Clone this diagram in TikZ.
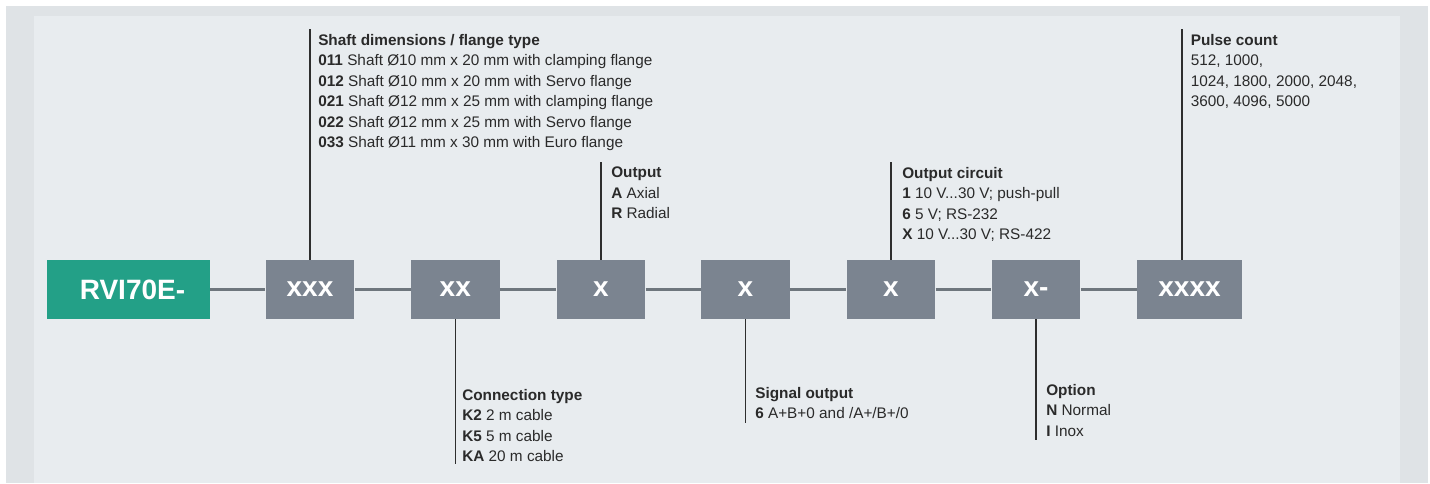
\documentclass[tikz,border=0pt]{standalone}
\usepackage{fontspec}
\setmainfont{Liberation Sans}
\usetikzlibrary{calc}
\definecolor{outerbg}{HTML}{DFE3E6}
\definecolor{innerbg}{HTML}{E8ECEF}
\definecolor{codegreen}{HTML}{23A087}
\definecolor{codegrey}{HTML}{7B8490}
\definecolor{linkgrey}{HTML}{6E767D}
\definecolor{leadercol}{HTML}{2E2E2E}
\definecolor{txtcol}{HTML}{2A2A2A}
\begin{document}
\begin{tikzpicture}[x=0.75pt,y=-0.75pt,
  codebox/.style={fill=codegrey, text=white, inner sep=0pt,
    font=\fontsize{21pt}{26pt}\selectfont\bfseries,
    minimum width=66.4pt, minimum height=44.25pt},
  headbox/.style={codebox, fill=codegreen, minimum width=122.25pt},
  widebox/.style={codebox, minimum width=78.4pt},
  link/.style={draw=linkgrey, line width=2pt},
  leader/.style={draw=leadercol, line width=1pt},
  info/.style={anchor=north west, inner sep=0pt, align=left, text=txtcol,
    font=\fontsize{11.5pt}{15.375pt}\selectfont}]
\useasboundingbox (0,0) rectangle (1430,483);
\fill[white] (0,0) rectangle (1430,483);
\fill[outerbg] (6,6) rectangle (1428,483);
\fill[innerbg] (34,16) rectangle (1400,483);

% code boxes
\node[headbox] (b0) at (128.5,289.5) {\hspace*{6pt}RVI70E-};
\node[codebox] (b1) at (310,289.5) {xxx};
\node[codebox] (b2) at (455.3,289.5) {xx};
\node[codebox] (b3) at (601,289.5) {x};
\node[codebox] (b4) at (745.4,289.5) {x};
\node[codebox] (b5) at (891,289.5) {x};
\node[codebox] (b6) at (1036,289.5) {x-};
\node[widebox] (b7) at (1189.5,289.5) {xxxx};

% horizontal links
\draw[link] (b0.east) -- (b1.west);
\draw[link] (b1.east) -- (b2.west);
\draw[link] (b2.east) -- (b3.west);
\draw[link] (b3.east) -- (b4.west);
\draw[link] (b4.east) -- (b5.west);
\draw[link] (b5.east) -- (b6.west);
\draw[link] (b6.east) -- (b7.west);

% leader ends
\coordinate (t1) at (310,29);
\coordinate (t3) at (601,162);
\coordinate (t5) at (891,162);
\coordinate (t7) at (1182,29);
\coordinate (e2) at (455.3,464);
\coordinate (e4) at (745.4,423);
\coordinate (e6) at (1036,440);

\draw[leader] (t1) -- (t1 |- b1.north);
\draw[leader] (t3) -- (t3 |- b3.north);
\draw[leader] (t5) -- (t5 |- b5.north);
\draw[leader] (t7) -- (t7 |- b7.north);
\draw[leader] (b2.south) -- (e2);
\draw[leader] (b4.south) -- (e4);
\draw[leader] (b6.south) -- (e6);

% labels
\node[info] (l1) at (318,34) {\textbf{Shaft dimensions / flange type}\\
  \textbf{011} Shaft Ø10 mm x 20 mm with clamping flange\\
  \textbf{012} Shaft Ø10 mm x 20 mm with Servo flange\\
  \textbf{021} Shaft Ø12 mm x 25 mm with clamping flange\\
  \textbf{022} Shaft Ø12 mm x 25 mm with Servo flange\\
  \textbf{033} Shaft Ø11 mm x 30 mm with Euro flange};
\node[info] (l3) at (611,167) {\textbf{Output}\\
  \textbf{A} Axial\\
  \textbf{R} Radial};
\node[info] (l5) at (902,167) {\textbf{Output circuit}\\
  \textbf{1} 10 V...30 V; push-pull\\
  \textbf{6} 5 V; RS-232\\
  \textbf{X} 10 V...30 V; RS-422};
\node[info] (l7) at (1190.5,34) {\textbf{Pulse count}\\
  512, 1000,\\
  1024, 1800, 2000, 2048,\\
  3600, 4096, 5000};
\node[info] (l2) at (462,389) {\textbf{Connection type}\\
  \textbf{K2} 2 m cable\\
  \textbf{K5} 5 m cable\\
  \textbf{KA} 20 m cable};
\node[info] (l4) at (755,387) {\textbf{Signal output}\\
  \textbf{6} A+B+0 and /A+/B+/0};
\node[info] (l6) at (1046,384) {\textbf{Option}\\
  \textbf{N} Normal\\
  \textbf{I} Inox};
\end{tikzpicture}
\end{document}
